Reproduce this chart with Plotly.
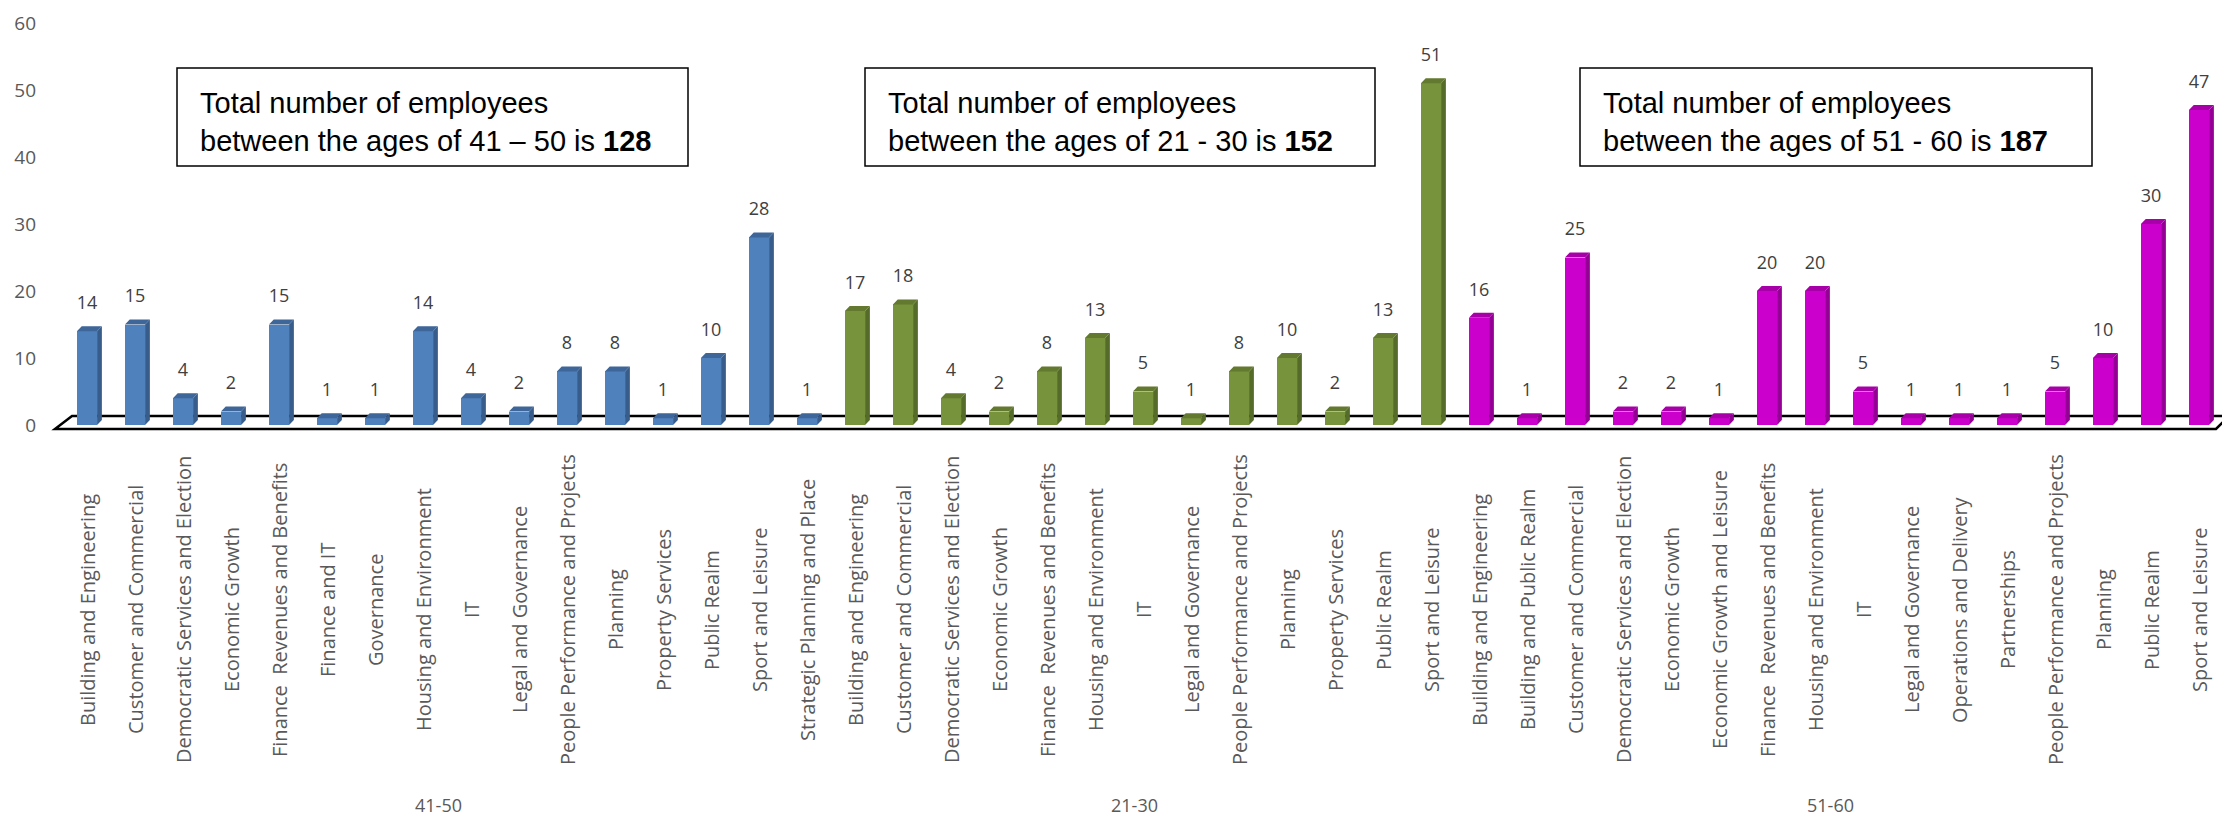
import plotly.graph_objects as go

# ---------------- data ----------------
groups = ["41-50", "21-30", "51-60"]

cats_41_50 = ["Building and Engineering", "Customer and Commercial", "Democratic Services and Election",
              "Economic Growth", "Finance  Revenues and Benefits", "Finance and IT", "Governance",
              "Housing and Environment", "IT", "Legal and Governance", "People Performance and Projects",
              "Planning", "Property Services", "Public Realm", "Sport and Leisure",
              "Strategic Planning and Place"]
vals_41_50 = [14, 15, 4, 2, 15, 1, 1, 14, 4, 2, 8, 8, 1, 10, 28, 1]

cats_21_30 = ["Building and Engineering", "Customer and Commercial", "Democratic Services and Election",
              "Economic Growth", "Finance  Revenues and Benefits", "Housing and Environment", "IT",
              "Legal and Governance", "People Performance and Projects", "Planning", "Property Services",
              "Public Realm", "Sport and Leisure"]
vals_21_30 = [17, 18, 4, 2, 8, 13, 5, 1, 8, 10, 2, 13, 51]

cats_51_60 = ["Building and Engineering", "Building and Public Realm", "Customer and Commercial",
              "Democratic Services and Election", "Economic Growth", "Economic Growth and Leisure",
              "Finance  Revenues and Benefits", "Housing and Environment", "IT", "Legal and Governance",
              "Operations and Delivery", "Partnerships", "People Performance and Projects", "Planning",
              "Public Realm", "Sport and Leisure"]
vals_51_60 = [16, 1, 25, 2, 2, 1, 20, 20, 5, 1, 1, 1, 5, 10, 30, 47]

y_ticks = [0, 10, 20, 30, 40, 50, 60]

# ---------------- styling ----------------
front_colors = ["#4F81BD", "#77933C", "#CC00CC"]
side_colors = ["#385D8A", "#556B2A", "#940094"]
top_colors = ["#3E6699", "#62792F", "#A800A8"]
box_labels = ["41 \u2013 50", "21 - 30", "51 - 60"]

BAR_W = 0.42      # front face width (category units)
DX = 0.10         # 3D depth, horizontal (category units)
DY = 0.75         # 3D depth, vertical (value units)
LABEL_OFF = 4.0   # data label centre above front face (value units)

all_cats = [cats_41_50, cats_21_30, cats_51_60]
all_vals = [vals_41_50, vals_21_30, vals_51_60]

fig = go.Figure()

tickvals, ticktext = [], []
group_centres = []
start = 0
for g, (cats, vals) in enumerate(zip(all_cats, all_vals)):
    xs = list(range(start, start + len(cats)))
    tickvals += xs
    ticktext += cats
    group_centres.append(sum(xs) / len(xs))

    sx, sy = [], []
    tx, ty = [], []
    for x, v in zip(xs, vals):
        r = x + BAR_W / 2
        l = x - BAR_W / 2
        sx += [r, r + DX, r + DX, r, r, None]
        sy += [0, DY, v + DY, v, 0, None]
        tx += [l, r, r + DX, l + DX, l, None]
        ty += [v, v, v + DY, v + DY, v, None]
    fig.add_trace(go.Scatter(x=sx, y=sy, mode="lines", fill="toself", fillcolor=side_colors[g],
                             line=dict(width=0, color=side_colors[g]), hoverinfo="skip", showlegend=False))
    fig.add_trace(go.Scatter(x=tx, y=ty, mode="lines", fill="toself", fillcolor=top_colors[g],
                             line=dict(width=0, color=top_colors[g]), hoverinfo="skip", showlegend=False))
    fig.add_trace(go.Bar(x=xs, y=vals, width=BAR_W, marker=dict(color=front_colors[g], line=dict(width=0)),
                         showlegend=False, hovertext=cats))
    fig.add_trace(go.Scatter(x=xs, y=[v + LABEL_OFF for v in vals], mode="text",
                             text=[str(v) for v in vals], textposition="middle center",
                             textfont=dict(family="Open Sans, sans-serif", size=18, color="#404040"),
                             hoverinfo="skip", showlegend=False, cliponaxis=False))
    start += len(cats)

n = len(tickvals)

# ---------------- layout ----------------
PAGE_OFF = 8                      # default body margin of the html page
W, H = 2230 - PAGE_OFF, 819 - PAGE_OFF
ML, MR, MT, MB = 63 - PAGE_OFF, 7, 23 - PAGE_OFF, H - (425 - PAGE_OFF)
PW = W - ML - MR
PH = H - MT - MB


def px_x(p):
    return (p - PAGE_OFF - ML) / PW


def px_y(p):
    return (H - MB - (p - PAGE_OFF)) / PH


shapes = []
shapes.append(dict(type="path", xref="paper", yref="paper", layer="below",
                   path=f"M {px_x(55)} {px_y(429)} L {px_x(72)} {px_y(416)} L {px_x(2229)} {px_y(416)} "
                        f"L {px_x(2216)} {px_y(429)} Z",
                   line=dict(color="black", width=2.5), fillcolor="white"))

boxes = [(177, 688), (865, 1375), (1580, 2092)]
annotations = []
for (x0, x1), lab, vals in zip(boxes, box_labels, all_vals):
    shapes.append(dict(type="rect", xref="paper", yref="paper",
                       x0=px_x(x0), x1=px_x(x1), y0=px_y(166), y1=px_y(68),
                       line=dict(color="black", width=1.5), fillcolor="white", layer="above"))
    annotations.append(dict(xref="paper", yref="paper", x=px_x(x0 + 21), y=px_y(122),
                            xanchor="left", yanchor="middle", align="left", showarrow=False,
                            text=f"Total number of employees<br>between the ages of {lab} is <b>{sum(vals)}</b>",
                            font=dict(family="Liberation Sans, Arial, sans-serif", size=29, color="black")))

# category labels (rotated, centred like the original)
for xv, txt in zip(tickvals, ticktext):
    annotations.append(dict(xref="x", yref="paper", x=xv, y=px_y(610), xanchor="center", yanchor="middle",
                            textangle=-90, showarrow=False, text=txt,
                            font=dict(family="Open Sans, sans-serif", size=20, color="#595959")))

# group labels
for gname, cx in zip(groups, group_centres):
    annotations.append(dict(xref="x", yref="paper", x=cx, y=px_y(805), xanchor="center", yanchor="middle",
                            xshift=-9, showarrow=False, text=gname,
                            font=dict(family="Open Sans, sans-serif", size=18, color="#595959")))

fig.update_layout(
    width=W, height=H,
    margin=dict(l=ML, r=MR, t=MT, b=MB, autoexpand=False),
    plot_bgcolor="white", paper_bgcolor="white",
    showlegend=False,
    bargap=0,
    shapes=shapes,
    annotations=annotations,
    xaxis=dict(range=[-0.5, n - 0.5], tickmode="array", tickvals=tickvals, showticklabels=False,
               showgrid=False, zeroline=False, showline=False, ticks=""),
    yaxis=dict(range=[0, 60], tickmode="array", tickvals=y_ticks, showgrid=False, zeroline=False,
               showline=False, ticks="", ticklabelstandoff=26,
               tickfont=dict(family="Open Sans, sans-serif", size=19, color="#595959")),
)

fig.write_html("out.html")
